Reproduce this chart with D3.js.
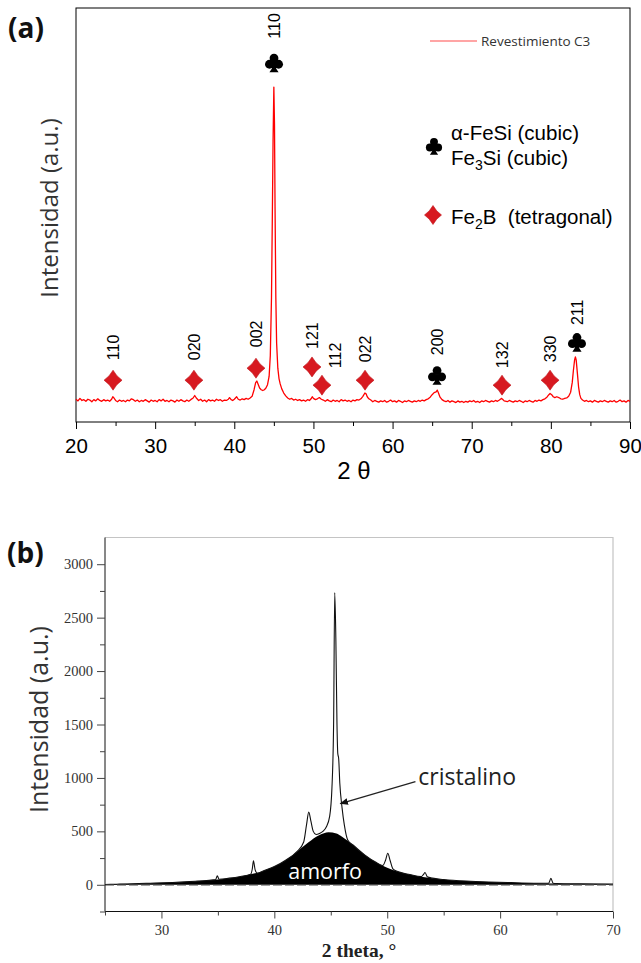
<!DOCTYPE html>
<html>
<head>
<meta charset="utf-8">
<script src="https://cdn.jsdelivr.net/npm/d3@7"></script>
<style>
  html, body { margin: 0; padding: 0; background: #fff; }
  svg { display: block; }
  text { white-space: pre; }
</style>
</head>
<body>
<svg id="fig" width="641" height="963"></svg>
<script>
// ---------- Panel (a): XRD scan of coating C3 ----------
// [2θ, intensity] pairs
const scanC3 = [
  [20,55],[20.25,51],[20.5,57],[20.75,52],[21,54],[21.25,50],[21.5,55],[21.75,53],[22,49],[22.25,54],
  [22.5,51],[22.75,56],[23,52],[23.25,50],[23.5,54],[23.75,51],[24,53],[24.25,50],[24.5,55],[24.65,61],
  [24.8,58],[25,52],[25.25,49],[25.5,53],[25.75,50],[26,52],[26.25,49],[26.5,53],[26.75,51],[27,56],
  [27.25,54],[27.5,50],[27.75,53],[28,49],[28.25,52],[28.5,50],[28.75,54],[29,51],[29.25,48],[29.5,53],
  [29.75,50],[30,52],[30.25,49],[30.5,54],[30.75,51],[31,55],[31.25,50],[31.5,52],[31.75,49],[32,53],
  [32.25,51],[32.5,48],[32.75,53],[33,50],[33.25,54],[33.5,51],[33.75,49],[34,53],[34.25,50],[34.5,54],
  [34.8,58],[35,64],[35.2,58],[35.5,52],[35.75,55],[36,50],[36.25,53],[36.5,49],[36.75,54],[37,51],
  [37.25,53],[37.5,50],[37.75,55],[38,52],[38.25,54],[38.5,50],[38.75,53],[39,52],[39.25,55],[39.4,59],
  [39.6,54],[39.8,52],[40,55],[40.3,61],[40.5,55],[40.75,53],[41,56],[41.25,54],[41.5,57],[41.75,55],
  [42,58],[42.25,62],[42.5,78],[42.7,95],[42.85,99],[43,92],[43.2,82],[43.4,78],[43.6,76],[43.8,78],
  [44,82],[44.2,90],[44.4,110],[44.55,160],[44.7,300],[44.8,480],[44.9,680],[45,809],[45.08,720],[45.15,520],
  [45.25,300],[45.35,190],[45.5,130],[45.65,105],[45.8,92],[46,80],[46.25,70],[46.5,63],[46.75,58],[47,55],
  [47.25,57],[47.5,53],[47.75,55],[48,52],[48.25,54],[48.5,51],[48.75,53],[49,50],[49.25,54],[49.5,52],
  [49.7,56],[49.85,61],[50,57],[50.25,54],[50.5,56],[50.75,59],[51,55],[51.25,53],[51.5,50],[51.75,54],
  [52,51],[52.25,49],[52.5,53],[52.75,50],[53,52],[53.25,49],[53.5,54],[53.75,51],[54,53],[54.25,50],
  [54.5,52],[54.75,49],[55,53],[55.25,51],[55.5,54],[55.75,53],[56,56],[56.25,62],[56.5,70],[56.65,68],
  [56.8,61],[57,56],[57.25,53],[57.5,49],[57.75,52],[58,50],[58.25,48],[58.5,51],[58.75,49],[59,52],
  [59.25,48],[59.5,50],[59.75,53],[60,49],[60.25,51],[60.5,48],[60.75,52],[61,50],[61.25,47],[61.5,51],
  [61.75,49],[62,52],[62.25,50],[62.5,48],[62.75,51],[63,49],[63.25,52],[63.5,50],[63.75,53],[64,51],
  [64.25,54],[64.5,56],[64.75,60],[65,66],[65.25,71],[65.5,73],[65.65,77],[65.8,70],[66,60],[66.25,54],
  [66.5,51],[66.75,49],[67,52],[67.25,48],[67.5,51],[67.75,49],[68,47],[68.25,51],[68.5,48],[68.75,50],
  [69,47],[69.25,50],[69.5,48],[69.75,51],[70,49],[70.25,52],[70.5,48],[70.75,50],[71,47],[71.25,51],
  [71.5,49],[71.75,52],[72,50],[72.25,48],[72.5,51],[72.75,49],[73,52],[73.25,50],[73.5,53],[73.75,57],
  [73.9,55],[74.1,51],[74.5,49],[74.75,52],[75,50],[75.25,48],[75.5,51],[75.75,49],[76,52],[76.25,50],
  [76.5,47],[76.75,51],[77,49],[77.25,52],[77.5,50],[77.75,48],[78,52],[78.25,50],[78.5,53],[78.75,51],
  [79,54],[79.25,56],[79.5,60],[79.75,66],[79.9,69],[80.1,66],[80.3,61],[80.5,59],[80.75,61],[81,59],
  [81.25,56],[81.5,55],[81.75,57],[82,58],[82.25,62],[82.5,72],[82.7,95],[82.85,125],[83,150],[83.1,157],
  [83.2,150],[83.35,118],[83.5,85],[83.65,66],[83.8,57],[84,53],[84.25,50],[84.5,52],[84.75,49],[85,51],
  [85.25,48],[85.5,52],[85.75,50],[86,48],[86.25,51],[86.5,49],[86.75,52],[87,50],[87.25,48],[87.5,51],
  [87.75,49],[88,52],[88.25,48],[88.5,50],[88.75,53],[89,49],[89.25,51],[89.5,48],[89.75,52],[90,50]
];

// indexed reflections: 2θ, hkl, phase ("club" = α-FeSi / Fe3Si, "diamond" = Fe2B),
// marker level (intensity units), label shift along x (px) and gap above marker (px)
const reflPos   = [24.68, 34.9, 42.74, 49.82, 51.08, 56.52, 65.62, 73.83, 79.9, 83.3, 45.02];
const reflHkl   = ["110","020","002","121","112","022","200","132","330","211","110"];
const reflPhase = ["diamond","diamond","diamond","diamond","diamond","diamond","club","diamond","diamond","club","club"];
const reflLevel = [101, 101, 130, 133, 89, 101, 113, 89, 101, 193, 868];
const reflLabDx = [0, 0, 0, 0, 13, 0, 0, 0, 0, 0, 0];
const reflLabGap= [20, 20, 21, 18, 17, 18, 20, 17, 18, 17, 24];

const xTicksA = [20, 30, 40, 50, 60, 70, 80, 90];
const xMinorA = [25, 35, 45, 55, 65, 75, 85];

// ---------- Panel (b): crystalline + amorphous contributions ----------
const crystalline = [
  [25,2],[26,5],[27,8],[28,12],[29,15],[30,18],[31,22],[32,27],[33,33],[34,40],
  [34.8,48],[34.95,85],[35.1,52],[36,62],[37,78],[37.9,98],[38.05,150],[38.15,225],[38.3,140],[38.5,108],
  [39,130],[40,170],[41,230],[42,310],[42.6,400],[42.85,560],[43.05,680],[43.25,590],[43.45,500],[43.7,470],
  [44,480],[44.3,500],[44.6,540],[44.9,640],[45.1,900],[45.25,1500],[45.35,2735],[45.45,2300],[45.55,1500],[45.62,1230],
  [45.7,1180],[45.8,950],[46,720],[46.2,560],[46.5,420],[47,370],[48,280],[49,210],[49.6,180],[49.85,230],
  [50.05,295],[50.25,230],[50.5,150],[51,122],[52,96],[53,76],[53.2,95],[53.35,115],[53.55,75],[54,62],
  [55,50],[57,35],[59,26],[61,20],[63,15],[64.3,14],[64.5,60],[64.7,14],[65,12],[67,9],[70,6]
];
const amorphous = [
  [25,5],[27,10],[29,15],[31,22],[33,33],[35,50],[36,62],[37,78],[38,100],[39,130],
  [40,170],[41,230],[42,310],[43,395],[44,465],[44.8,492],[45.5,480],[46,450],[47,370],[48,280],
  [49,210],[50,160],[51,122],[52,96],[53,76],[54,62],[55,50],[57,35],[59,26],[61,20],
  [63,15],[65,12],[67,9],[70,6]
];
const yTicksB = [0, 500, 1000, 1500, 2000, 2500, 3000];
const yMinorB = [-250, 250, 750, 1250, 1750, 2250, 2750];
const xTicksB = [30, 40, 50, 60, 70];
const xMinorB = [25, 35, 45, 55, 65];

// ---------- drawing ----------
const svg = d3.select("#fig");

const xa = d3.scaleLinear().domain([20, 90]).range([76, 630]);
const ya = d3.scaleLinear().domain([0, 1000]).range([422, 8]);

const xb = d3.scaleLinear().domain([25, 70]).range([105, 613]);
const yb = d3.scaleLinear().domain([-250, 3250]).range([911.5, 537.5]);

const SANS = "'Liberation Sans', Arial, sans-serif";
const OPEN = "'Open Sans', 'Noto Sans', sans-serif";
const SERIF = "'Liberation Serif', 'Times New Roman', serif";

// panel letters
svg.append("text").attr("x", 8).attr("y", 38).text("(a)")
  .attr("font-family", OPEN).attr("font-weight", 700).attr("font-size", 28).attr("fill", "#111");
svg.append("text").attr("x", 7).attr("y", 563).text("(b)")
  .attr("font-family", OPEN).attr("font-weight", 700).attr("font-size", 28).attr("fill", "#111");

// ----- panel (a)
const gA = svg.append("g");

gA.append("rect")
  .attr("x", xa(20)).attr("y", ya(1000))
  .attr("width", xa(90) - xa(20)).attr("height", ya(0) - ya(1000))
  .attr("fill", "none").attr("stroke", "#000").attr("stroke-width", 1);

const axA = gA.append("g").attr("transform", `translate(0,${ya(0)})`)
  .call(d3.axisBottom(xa).tickValues(xTicksA).tickSize(7).tickPadding(9).tickFormat(d3.format("d")));
axA.select(".domain").remove();
axA.selectAll("text").attr("font-family", SANS).attr("font-size", 20.5).attr("fill", "#000");
axA.selectAll("line").attr("stroke", "#000");
const axAm = gA.append("g").attr("transform", `translate(0,${ya(0)})`)
  .call(d3.axisBottom(xa).tickValues(xMinorA).tickSize(4).tickFormat(""));
axAm.select(".domain").remove();

gA.append("text").attr("x", 354).attr("y", 479).attr("text-anchor", "middle")
  .attr("font-family", SANS).attr("font-size", 24).attr("fill", "#000").text("2 θ");

gA.append("text")
  .attr("transform", `translate(58,${(ya(0) + ya(1000)) / 2 - 7}) rotate(-90)`)
  .attr("text-anchor", "middle")
  .attr("font-family", OPEN).attr("font-size", 24).attr("fill", "#333")
  .text("Intensidad (a.u.)");

const lineA = d3.line().x(d => xa(d[0])).y(d => ya(d[1]));
gA.append("path").datum(scanC3)
  .attr("d", lineA).attr("fill", "none")
  .attr("stroke", "#ff0000").attr("stroke-width", 1.3).attr("stroke-linejoin", "round");

// symbols
const diamondPath = (w, h) =>
  `M0,${-h} Q${w * 0.38},${-h * 0.38} ${w},0 Q${w * 0.38},${h * 0.38} 0,${h} ` +
  `Q${-w * 0.38},${h * 0.38} ${-w},0 Q${-w * 0.38},${-h * 0.38} 0,${-h}Z`;

function drawClub(g, cx, cy, s) {
  const c = g.append("g").attr("transform", `translate(${cx},${cy}) scale(${s})`).attr("fill", "#000");
  c.append("circle").attr("cx", 0).attr("cy", -4.6).attr("r", 4.4);
  c.append("circle").attr("cx", -4.6).attr("cy", 1.6).attr("r", 4.4);
  c.append("circle").attr("cx", 4.6).attr("cy", 1.6).attr("r", 4.4);
  c.append("path").attr("d", "M-1.6,-1 L1.6,-1 L2.2,6 L4.6,9.6 L-4.6,9.6 L-2.2,6 Z");
}
function drawDiamond(g, cx, cy, w, h) {
  g.append("path").attr("transform", `translate(${cx},${cy})`)
    .attr("d", diamondPath(w, h)).attr("fill", "#d71920").attr("stroke", "#c0141a").attr("stroke-width", 0.6);
}

reflPos.forEach((t, i) => {
  const cx = xa(t), cy = ya(reflLevel[i]);
  if (reflPhase[i] === "club") drawClub(gA, cx, cy, 1);
  else drawDiamond(gA, cx, cy, 9, 10);
  gA.append("text")
    .attr("transform", `translate(${cx + reflLabDx[i]},${cy - reflLabGap[i]}) rotate(-90)`)
    .attr("text-anchor", "start").attr("dy", "0.36em")
    .attr("font-family", SANS).attr("font-size", 16).attr("fill", "#000")
    .text(reflHkl[i]);
});

// legend of the scan
gA.append("line").attr("x1", 430).attr("x2", 477).attr("y1", 41).attr("y2", 41)
  .attr("stroke", "#ff4d4d").attr("stroke-width", 1.2);
gA.append("text").attr("x", 481).attr("y", 46)
  .attr("font-family", OPEN).attr("font-size", 13.5).attr("fill", "#333")
  .text("Revestimiento C3");

// phase key
drawClub(gA, 434, 146, 0.9);
gA.append("text").attr("x", 451).attr("y", 140)
  .attr("font-family", SANS).attr("font-size", 20.5).attr("fill", "#000").text("α-FeSi (cubic)");
const t2 = gA.append("text").attr("x", 451).attr("y", 165)
  .attr("font-family", SANS).attr("font-size", 20.5).attr("fill", "#000");
t2.append("tspan").text("Fe");
t2.append("tspan").attr("font-size", 14).attr("dy", 5).text("3");
t2.append("tspan").attr("dy", -5).text("Si (cubic)");
drawDiamond(gA, 433, 215, 8.5, 9.5);
const t3 = gA.append("text").attr("x", 451).attr("y", 224)
  .attr("font-family", SANS).attr("font-size", 20.5).attr("fill", "#000");
t3.append("tspan").text("Fe");
t3.append("tspan").attr("font-size", 14).attr("dy", 5).text("2");
t3.append("tspan").attr("dy", -5).text("B  (tetragonal)");

// ----- panel (b)
const gB = svg.append("g");

// light frame (top and right)
gB.append("path")
  .attr("d", `M${xb(25)},${yb(3250)} H${xb(70)} V${yb(-250)}`)
  .attr("fill", "none").attr("stroke", "#c4c4c4").attr("stroke-width", 1.2);

const area = d3.area().x(d => xb(d[0])).y0(yb(0)).y1(d => yb(d[1])).curve(d3.curveMonotoneX);
gB.append("path").datum(amorphous).attr("d", area).attr("fill", "#000");

const lineB = d3.line().x(d => xb(d[0])).y(d => yb(d[1])).curve(d3.curveMonotoneX);
gB.append("path").datum(crystalline).attr("d", lineB)
  .attr("fill", "none").attr("stroke", "#111").attr("stroke-width", 1.1);

// baseline trace under the hump
gB.append("line").attr("x1", xb(25)).attr("x2", xb(70)).attr("y1", yb(0)).attr("y2", yb(0))
  .attr("stroke", "#444").attr("stroke-width", 1.2).attr("stroke-dasharray", "9,3");

// axes
const axBl = gB.append("g").attr("transform", `translate(${xb(25)},0)`)
  .call(d3.axisLeft(yb).tickValues(yTicksB).tickSize(8).tickPadding(4).tickFormat(d3.format("d")));
axBl.select(".domain").attr("stroke", "#111").attr("d", `M0,${yb(-250)}V${yb(3250)}`);
axBl.selectAll("text").attr("font-family", SERIF).attr("font-size", 14.5).attr("fill", "#333");
axBl.selectAll("line").attr("stroke", "#444");
const axBlm = gB.append("g").attr("transform", `translate(${xb(25)},0)`)
  .call(d3.axisLeft(yb).tickValues(yMinorB).tickSize(5).tickFormat(""));
axBlm.select(".domain").remove();
axBlm.selectAll("line").attr("stroke", "#444");

const axBb = gB.append("g").attr("transform", `translate(0,${yb(-250)})`)
  .call(d3.axisBottom(xb).tickValues(xTicksB).tickSize(7).tickPadding(6).tickFormat(d3.format("d")));
axBb.select(".domain").attr("stroke", "#111").attr("d", `M${xb(25)},0H${xb(70)}`);
axBb.selectAll("text").attr("font-family", SERIF).attr("font-size", 14.5).attr("fill", "#333");
axBb.selectAll("line").attr("stroke", "#444");
const axBbm = gB.append("g").attr("transform", `translate(0,${yb(-250)})`)
  .call(d3.axisBottom(xb).tickValues(xMinorB).tickSize(4).tickFormat(""));
axBbm.select(".domain").remove();
axBbm.selectAll("line").attr("stroke", "#444");

gB.append("text").attr("x", 359).attr("y", 957).attr("text-anchor", "middle")
  .attr("font-family", SERIF).attr("font-weight", 700).attr("font-size", 19.5).attr("fill", "#222")
  .text("2 theta, °");

gB.append("text")
  .attr("transform", `translate(48,${yb(1500) - 5}) rotate(-90)`)
  .attr("text-anchor", "middle")
  .attr("font-family", OPEN).attr("font-size", 25).attr("fill", "#333")
  .text("Intensidad (a.u.)");

// annotations
gB.append("text").attr("x", xb(44.5)).attr("y", yb(50)).attr("text-anchor", "middle")
  .attr("font-family", OPEN).attr("font-size", 21.5).attr("fill", "#fff").text("amorfo");

svg.append("defs").append("marker")
  .attr("id", "arrowhead").attr("viewBox", "0 0 10 10").attr("refX", 9).attr("refY", 5)
  .attr("markerWidth", 7).attr("markerHeight", 7).attr("orient", "auto")
  .append("path").attr("d", "M0,1 L10,5 L0,9 Z").attr("fill", "#111");
gB.append("line")
  .attr("x1", xb(52.5)).attr("y1", yb(965))
  .attr("x2", xb(45.85)).attr("y2", yb(760))
  .attr("stroke", "#222").attr("stroke-width", 1.2).attr("marker-end", "url(#arrowhead)");
gB.append("text").attr("x", xb(52.75)).attr("y", yb(930))
  .attr("font-family", OPEN).attr("font-size", 23).attr("fill", "#222").text("cristalino");
</script>
</body>
</html>
